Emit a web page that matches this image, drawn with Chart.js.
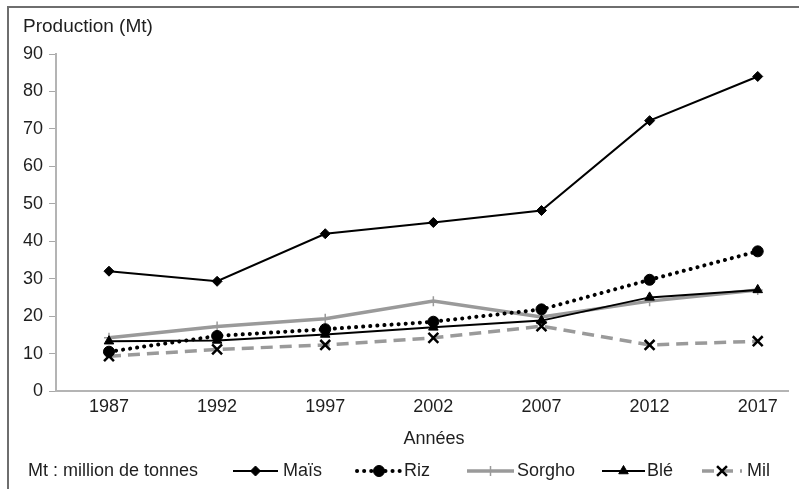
<!DOCTYPE html>
<html>
  <head>
    <meta charset="utf-8" />
    <title>Production de céréales</title>
    <script src="https://cdn.jsdelivr.net/npm/chart.js"></script>
    <style>
      html, body { margin: 0; padding: 0; background: #fff; }
      #wrap { position: relative; width: 799px; height: 489px; }
    </style>
  </head>

  <body>
    <div id="wrap">
      <canvas id="prodChart" width="799" height="489"></canvas>
    </div>
    <script>
      // data
      var years = [1987, 1992, 1997, 2002, 2007, 2012, 2017];
      var yTicks = [0, 10, 20, 30, 40, 50, 60, 70, 80, 90];
      var mais = [32, 29.3, 42, 45, 48.2, 72.2, 84];
      var riz = [10.5, 14.7, 16.5, 18.5, 21.8, 29.7, 37.3];
      var sorgho = [14.2, 17.2, 19.3, 24, 19.8, 24, 27];
      var ble = [13.3, 13.5, 15.1, 17, 18.8, 25, 27];
      var mil = [9.3, 11.1, 12.3, 14.2, 17.3, 12.3, 13.3];

      var FONT = "'Liberation Sans', Arial, sans-serif";

      function pts(values) {
        return values.map(function (v, i) {
          return { x: years[i], y: v };
        });
      }

      // legend sample positions (line start, line end, text x)
      var legendPos = [
        [233, 278, 283],
        [357, 401, 404],
        [467, 514, 517],
        [602, 645, 647],
        [702, 742, 747],
      ];

      var framePlugin = {
        id: "frame",
        beforeDraw: function (chart) {
          var c = chart.ctx;
          c.save();
          c.fillStyle = "#fff";
          c.fillRect(0, 0, chart.width, chart.height);
          c.strokeStyle = "#6e6e6e";
          c.lineWidth = 2;
          c.beginPath();
          c.moveTo(8, chart.height);
          c.lineTo(8, 7);
          c.lineTo(chart.width, 7);
          c.stroke();
          c.restore();
        },
        afterDraw: function (chart) {
          var c = chart.ctx;
          c.save();
          c.fillStyle = "#1e1e1e";
          c.textBaseline = "middle";
          c.textAlign = "left";
          c.font = "19px " + FONT;
          c.fillText("Production (Mt)", 23, 27);
          c.font = "18px " + FONT;
          c.textAlign = "center";
          c.fillText("Années", 434, 439);
          c.textAlign = "left";
          c.fillText("Mt : million de tonnes", 28, 471);

          var ly = 471;
          chart.data.datasets.forEach(function (ds, i) {
            var p = legendPos[i];
            c.save();
            c.strokeStyle = ds.borderColor;
            c.lineWidth = ds.borderWidth;
            c.lineCap = ds.borderCapStyle || "butt";
            c.setLineDash(ds.borderDash || []);
            c.beginPath();
            c.moveTo(p[0], ly);
            c.lineTo(p[1], ly);
            c.stroke();
            c.restore();
            c.save();
            c.fillStyle = ds.pointBackgroundColor;
            c.strokeStyle = ds.pointBorderColor;
            c.lineWidth = ds.pointBorderWidth;
            Chart.helpers.drawPoint(
              c,
              {
                pointStyle: ds.pointStyle,
                radius: ds.pointRadius,
                borderWidth: ds.pointBorderWidth,
                rotation: 0,
              },
              (p[0] + p[1]) / 2,
              ly
            );
            c.restore();
            c.fillStyle = "#1e1e1e";
            c.fillText(ds.label, p[2], ly);
          });
          c.restore();
        },
      };

      var ctx = document.getElementById("prodChart").getContext("2d");
      var prodChart = new Chart(ctx, {
        type: "line",
        data: {
          datasets: [
            {
              label: "Maïs",
              data: pts(mais),
              borderColor: "#000",
              borderWidth: 2,
              pointStyle: "rectRot",
              pointRadius: 5,
              pointBackgroundColor: "#000",
              pointBorderColor: "#000",
              pointBorderWidth: 1,
            },
            {
              label: "Riz",
              data: pts(riz),
              borderColor: "#000",
              borderWidth: 4,
              borderDash: [0.1, 7],
              borderCapStyle: "round",
              pointStyle: "circle",
              pointRadius: 5.5,
              pointBackgroundColor: "#000",
              pointBorderColor: "#000",
              pointBorderWidth: 1,
            },
            {
              label: "Sorgho",
              data: pts(sorgho),
              order: 1, // grey line sits under the black ones
              borderColor: "#9a9a9a",
              borderWidth: 3.5,
              pointStyle: "cross",
              pointRadius: 5,
              pointBackgroundColor: "#9a9a9a",
              pointBorderColor: "#9a9a9a",
              pointBorderWidth: 1.5,
            },
            {
              label: "Blé",
              data: pts(ble),
              borderColor: "#000",
              borderWidth: 2,
              pointStyle: "triangle",
              pointRadius: 5.5,
              pointBackgroundColor: "#000",
              pointBorderColor: "#000",
              pointBorderWidth: 1,
            },
            {
              label: "Mil",
              data: pts(mil),
              order: 1,
              borderColor: "#9a9a9a",
              borderWidth: 3.5,
              borderDash: [12, 7],
              pointStyle: "crossRot",
              pointRadius: 7,
              pointBackgroundColor: "#000",
              pointBorderColor: "#000",
              pointBorderWidth: 2.5,
            },
          ],
        },
        options: {
          responsive: false,
          animation: false,
          layout: { padding: { top: 54, left: 0, right: 11, bottom: 0 } },
          plugins: {
            legend: { display: false },
            tooltip: { enabled: false },
          },
          scales: {
            x: {
              type: "linear",
              min: 1984.55,
              max: 2018.4,
              afterFit: function (scale) {
                scale.height = 98;
              },
              afterBuildTicks: function (scale) {
                scale.ticks = years.map(function (y) {
                  return { value: y };
                });
              },
              ticks: {
                color: "#1e1e1e",
                font: { family: FONT, size: 18 },
                padding: 5,
                callback: function (v) {
                  return String(v);
                },
              },
              grid: { display: false, drawTicks: false },
              border: { color: "#b4b4b4", width: 2 },
            },
            y: {
              min: 0,
              max: 90,
              afterFit: function (scale) {
                scale.width = 56;
              },
              afterBuildTicks: function (scale) {
                scale.ticks = yTicks.map(function (v) {
                  return { value: v };
                });
              },
              ticks: {
                color: "#1e1e1e",
                font: { family: FONT, size: 18 },
                padding: 6,
              },
              grid: {
                drawOnChartArea: false,
                tickLength: 7,
                color: "#a8a8a8",
              },
              border: { color: "#b4b4b4", width: 2 },
            },
          },
        },
        plugins: [framePlugin],
      });
    </script>
  </body>
</html>
